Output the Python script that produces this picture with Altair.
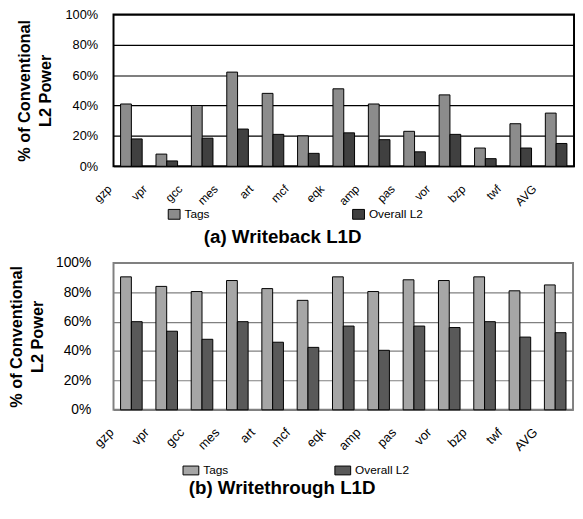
import altair as alt
import pandas as pd

cats = ["gzp", "vpr", "gcc", "mes", "art", "mcf", "eqk", "amp", "pas", "vor", "bzp", "twf", "AVG"]
series = ["Tags", "Overall L2"]
wb_tags = [41, 8, 40, 62, 48, 20, 51, 41, 23, 47, 12, 28, 35]
wb_l2 = [18, 3.5, 18.5, 24.5, 21, 8.5, 22, 17.5, 9.5, 21, 5, 12, 15]
wt_tags = [90.5, 84, 80.5, 88, 82.5, 74.5, 90.5, 80.5, 88.5, 88, 90.5, 81, 85]
wt_l2 = [60, 53.5, 48, 60, 46, 42.5, 57, 40.5, 57, 56, 60, 49.5, 52.5]
y_ticks = [0, 20, 40, 60, 80, 100]

FONT = "Liberation Sans"


def make_df(tags, l2):
    rows = []
    for c, t, o in zip(cats, tags, l2):
        rows.append({"cat": c, "series": "Tags", "value": t})
        rows.append({"cat": c, "series": "Overall L2", "value": o})
    return pd.DataFrame(rows)


def panel(tags, l2, title, colors, frame_color, grid_color, w, h, legend_x,
          legend_y, label_size, label_pad, title_pad, col_pad, sym_path, sym_size,
          xlab_size, xlab_shift, title_off):
    df = make_df(tags, l2)
    xs = alt.Scale(domain=cats, paddingInner=0.39, paddingOuter=0.2)
    bars = alt.Chart(df).mark_bar(stroke="black", strokeWidth=1).encode(
        x=alt.X("cat:N", sort=cats, scale=xs, axis=None),
        xOffset=alt.XOffset("series:N", sort=series),
        y=alt.Y("value:Q", scale=alt.Scale(domain=[0, 100]),
                axis=alt.Axis(values=y_ticks, labelExpr="datum.value + '%'",
                              title=["% of Conventional", "L2 Power"],
                              titleFont=FONT, titleFontSize=16.5, titleFontWeight="bold",
                              titleLineHeight=21, titlePadding=title_pad, titleColor="black",
                              labelFont=FONT, labelFontSize=label_size, labelColor="black",
                              labelPadding=label_pad, domain=False, ticks=False,
                              grid=True, gridColor=grid_color, gridWidth=1.2, gridOpacity=1)),
        color=alt.Color("series:N", sort=series,
                        scale=alt.Scale(domain=series, range=colors),
                        legend=alt.Legend(title=None, orient="none", legendX=legend_x,
                                          legendY=legend_y,
                                          direction="horizontal", symbolType=sym_path,
                                          symbolSize=sym_size, symbolStrokeColor="black",
                                          symbolStrokeWidth=1, labelFont=FONT,
                                          labelFontSize=12, labelColor="black",
                                          columnPadding=col_pad, symbolOpacity=1)),
    )
    lab_df = pd.DataFrame({"cat": cats})
    d = 0.7071 * xlab_shift
    labels = alt.Chart(lab_df).mark_text(
        angle=315, align="right", baseline="middle", font=FONT, fontSize=xlab_size,
        color="black", dx=d, dy=d,
    ).encode(
        x=alt.X("cat:N", sort=cats, scale=xs, axis=None),
        y=alt.value(h + 21),
        text="cat:N",
    )
    return alt.layer(bars, labels).properties(
        width=w, height=h,
        view=alt.ViewBackground(stroke=frame_color, strokeWidth=2),
        title=alt.TitleParams(title, orient="bottom", font=FONT, fontSize=19,
                              fontWeight="bold", color="black", anchor="middle",
                              dx=-62, offset=title_off),
    )


top = panel(wb_tags, wb_l2, "(a) Writeback L1D", ["#8c8c8c", "#404040"],
            "black", "black", 467, 154, 55, 196, 13, 16, 12, 142,
            "M-1,-0.83H1V0.83H-1Z", 144, 12, -22, 7)
bottom = panel(wt_tags, wt_l2, "(b) Writethrough L1D", ["#a6a6a6", "#595959"],
               "#808080", "#808080", 466, 149, 70, 202, 14, 23, 10, 105,
               "M-1,-0.56H1V0.56H-1Z", 256, 13, -20, 2)

chart = alt.vconcat(top, bottom, spacing=7).resolve_scale(color="independent").properties(
    padding={"left": 0, "top": -4, "right": 0, "bottom": 0}
)

chart.save("out.html", embed_options={"renderer": "svg", "actions": False})
